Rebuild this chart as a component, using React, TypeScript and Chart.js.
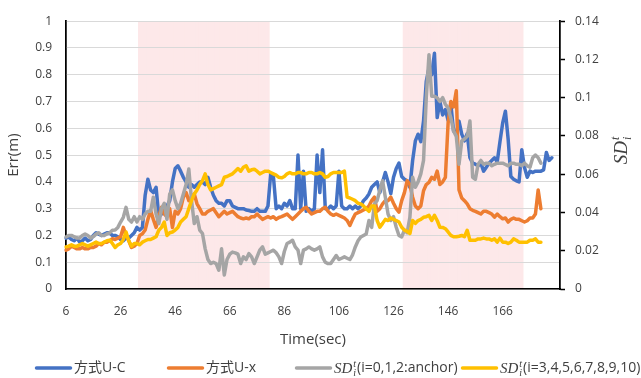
import React, { useEffect, useRef } from 'react';
import { Chart, registerables } from 'chart.js';

Chart.register(...registerables);

// ---------------- data ----------------
const TIMES: (number | string)[] = [
  6, 7, 8, 9, 10, 11, 12, 13, 14, 15, 16, 17, 18, 19, 20, 21, 22, 23, 24, 25,
  26, 27, 28, 29, 30, 31, 32, 33, 34, 35, 36, 37, 38, 39, 40, 41, 42, 43, 44, 45,
  46, 47, 48, 49, 50, 51, 52, 53, 54, 55, 56, 57, 58, 59, 60, 61, 62, 63, 64, 65,
  66, 67, 68, 69, 70, 71, 72, 73, 74, 75, 76, 77, 78, 79, 80, 81, 82, 83, 84, 85,
  86, 87, 88, 89, 90, 91, 92, 93, 94, 95, 96, 97, 98, 99, 100, 101, 102, 103, 104, 105,
  106, 107, 108, 109, 110, 111, 112, 113, 114, 115, 116, 117, 118, 119, 120, 121, 122, 123, 124, 125,
  126, 127, 128, 129, 130, 131, 132, 133, 134, 135, 136, 137, 138, 139, 140, 141, 142, 143, 144, 145,
  146, 147, 148, 149, 150, 151, 152, 153, 154, 155, 156, 157, 158, 159, 160, 161, 162, 163, 164, 165,
  166, 167, 168, 169, 170, 171, 172, 173, 174, 175, 176, 177, 178, 179, 180, 181, 182, 183, 184, 185,
  '', '',
];

const LABEL_START = 6;
const LABEL_STEP = 20;

// Err(m) of method U-C
const ERR_UC = [
  0.19, 0.194, 0.185, 0.18, 0.19, 0.175, 0.18, 0.19, 0.18, 0.185,
  0.2, 0.21, 0.205, 0.2, 0.205, 0.21, 0.21, 0.2, 0.2, 0.195,
  0.185, 0.18, 0.19, 0.19, 0.2, 0.21, 0.23, 0.22, 0.23, 0.35,
  0.41, 0.37, 0.36, 0.38, 0.27, 0.28, 0.29, 0.31, 0.33, 0.4,
  0.45, 0.46, 0.44, 0.417, 0.4, 0.38, 0.39, 0.38, 0.39, 0.4,
  0.4, 0.39, 0.417, 0.38, 0.35, 0.33, 0.32, 0.32, 0.31, 0.33,
  0.33, 0.31, 0.305, 0.3, 0.3, 0.3, 0.295, 0.293, 0.29, 0.29,
  0.3, 0.29, 0.29, 0.29, 0.31, 0.43, 0.42, 0.3, 0.31, 0.3,
  0.32, 0.31, 0.33, 0.3, 0.3, 0.5, 0.3, 0.44, 0.29, 0.3,
  0.29, 0.3, 0.5, 0.36, 0.52, 0.3, 0.3, 0.31, 0.3, 0.31,
  0.44, 0.31, 0.3, 0.3, 0.31, 0.3, 0.31, 0.3, 0.31, 0.33,
  0.34, 0.355, 0.38, 0.39, 0.4, 0.36, 0.4, 0.435, 0.4, 0.356,
  0.417, 0.45, 0.47, 0.42, 0.41, 0.404, 0.38, 0.48, 0.553, 0.578,
  0.55, 0.627, 0.775, 0.825, 0.8, 0.88, 0.64, 0.7, 0.65, 0.67,
  0.63, 0.69, 0.59, 0.58, 0.627, 0.578, 0.553, 0.58, 0.49, 0.47,
  0.466, 0.46, 0.47, 0.44, 0.455, 0.47, 0.48, 0.49, 0.475, 0.55,
  0.62, 0.664, 0.56, 0.42, 0.41, 0.404, 0.4, 0.52, 0.454, 0.417,
  0.44, 0.435, 0.44, 0.44, 0.44, 0.445, 0.51, 0.48, 0.49,
];

// Err(m) of method U-x
const ERR_UX = [
  0.145, 0.15, 0.16, 0.155, 0.15, 0.15, 0.155, 0.15, 0.15, 0.155,
  0.155, 0.16, 0.17, 0.165, 0.175, 0.175, 0.18, 0.188, 0.185, 0.19,
  0.195, 0.23, 0.2, 0.18, 0.155, 0.16, 0.17, 0.2, 0.206, 0.22,
  0.26, 0.293, 0.26, 0.23, 0.27, 0.305, 0.28, 0.27, 0.3, 0.23,
  0.29, 0.28, 0.3, 0.343, 0.36, 0.33, 0.345, 0.355, 0.318, 0.3,
  0.28, 0.28, 0.29, 0.295, 0.3, 0.285, 0.27, 0.28, 0.29, 0.28,
  0.285, 0.29, 0.28, 0.27, 0.265, 0.262, 0.265, 0.262, 0.27, 0.27,
  0.28, 0.27, 0.26, 0.265, 0.27, 0.265, 0.27, 0.26, 0.267, 0.27,
  0.275, 0.28, 0.27, 0.26, 0.27, 0.28, 0.29, 0.3, 0.305, 0.29,
  0.28, 0.285, 0.29, 0.29, 0.3, 0.305, 0.29, 0.28, 0.275, 0.28,
  0.275, 0.27, 0.265, 0.256, 0.237, 0.26, 0.28, 0.285, 0.29, 0.295,
  0.3, 0.31, 0.33, 0.343, 0.29, 0.3, 0.318, 0.33, 0.33, 0.343,
  0.32, 0.3, 0.287, 0.33, 0.36, 0.404, 0.39, 0.343, 0.31, 0.3,
  0.31, 0.367, 0.39, 0.398, 0.417, 0.41, 0.44, 0.39, 0.4, 0.417,
  0.62, 0.7, 0.68, 0.74, 0.37, 0.34, 0.33, 0.318, 0.3, 0.294,
  0.29, 0.285, 0.28, 0.29, 0.29, 0.285, 0.28, 0.268, 0.28, 0.27,
  0.262, 0.265, 0.25, 0.26, 0.265, 0.26, 0.26, 0.255, 0.25, 0.255,
  0.265, 0.265, 0.28, 0.37, 0.3,
];

// SD (i=0,1,2: anchor)
const SD_ANCHOR = [
  0.0272, 0.028, 0.028, 0.0273, 0.0266, 0.0266, 0.028, 0.0288, 0.028, 0.0266,
  0.0274, 0.0287, 0.0294, 0.028, 0.028, 0.0288, 0.0294, 0.0307, 0.0308, 0.0322,
  0.035, 0.0375, 0.0427, 0.0364, 0.035, 0.0378, 0.035, 0.0378, 0.0364, 0.0392,
  0.0406, 0.0406, 0.048, 0.0392, 0.0342, 0.042, 0.0448, 0.0364, 0.0497, 0.0518,
  0.0462, 0.042, 0.0448, 0.0497, 0.0546, 0.0627, 0.0462, 0.0342, 0.0378, 0.0308,
  0.029, 0.021, 0.0154, 0.0133, 0.014, 0.0133, 0.0098, 0.021, 0.0073, 0.0154,
  0.0182, 0.0193, 0.0189, 0.0182, 0.0133, 0.0168, 0.0154, 0.0185, 0.0168, 0.0133,
  0.0168, 0.0203, 0.022, 0.0182, 0.0189, 0.0196, 0.0203, 0.0189, 0.0168, 0.0133,
  0.0196, 0.0238, 0.0245, 0.0255, 0.022, 0.0203, 0.0133, 0.0203, 0.021, 0.022,
  0.021, 0.0203, 0.021, 0.022, 0.0168, 0.014, 0.0133, 0.0133, 0.0154, 0.0175,
  0.0154, 0.0161, 0.0168, 0.0161, 0.0154, 0.0179, 0.022, 0.0252, 0.0272, 0.028,
  0.0288, 0.0358, 0.0322, 0.0445, 0.0462, 0.0518, 0.0566, 0.048, 0.0392, 0.0358,
  0.0378, 0.0323, 0.028, 0.0272, 0.0308, 0.0294, 0.0375, 0.0584, 0.0532, 0.056,
  0.0602, 0.0672, 0.1, 0.1225, 0.1008, 0.1008, 0.1, 0.098, 0.1, 0.0966,
  0.0946, 0.0896, 0.0826, 0.0798, 0.0652, 0.0774, 0.0784, 0.0798, 0.0878, 0.0584,
  0.0574, 0.0652, 0.0672, 0.0652, 0.0658, 0.0658, 0.0644, 0.0652, 0.0658, 0.0658,
  0.0658, 0.0651, 0.0644, 0.0658, 0.0658, 0.0652, 0.0652, 0.0644, 0.0658, 0.0644,
  0.0637, 0.0686, 0.07, 0.0686, 0.0658,
];

// SD (i=3..10)
const SD_OTHERS = [
  0.022, 0.0224, 0.0231, 0.0224, 0.0224, 0.0231, 0.0238, 0.0231, 0.0224, 0.0231,
  0.0238, 0.0245, 0.0238, 0.0238, 0.0245, 0.0252, 0.0255, 0.0238, 0.0217, 0.0231,
  0.0238, 0.0259, 0.0298, 0.0252, 0.0224, 0.0238, 0.0238, 0.0231, 0.0245, 0.0252,
  0.0259, 0.0259, 0.0266, 0.0273, 0.0307, 0.0322, 0.035, 0.028, 0.0294, 0.0298,
  0.0308, 0.0322, 0.035, 0.0364, 0.0378, 0.042, 0.0462, 0.0497, 0.0518, 0.0546,
  0.0566, 0.0602, 0.0546, 0.0518, 0.0525, 0.0532, 0.0539, 0.0546, 0.0584, 0.0588,
  0.0595, 0.0602, 0.0616, 0.063, 0.0616, 0.0636, 0.0644, 0.0616, 0.0623, 0.0626,
  0.0616, 0.0602, 0.0609, 0.0616, 0.0616, 0.0609, 0.0602, 0.0595, 0.0584, 0.0581,
  0.0588, 0.0602, 0.0609, 0.0602, 0.0602, 0.0609, 0.0609, 0.0602, 0.0602, 0.0609,
  0.0609, 0.0602, 0.0602, 0.0609, 0.0602, 0.0584, 0.0588, 0.0602, 0.0609, 0.0609,
  0.0609, 0.0609, 0.0616, 0.048, 0.0476, 0.0469, 0.0462, 0.0448, 0.0445, 0.0434,
  0.042, 0.0406, 0.0434, 0.0434, 0.0358, 0.0323, 0.0343, 0.0364, 0.0358, 0.0371,
  0.0364, 0.0358, 0.035, 0.0323, 0.0308, 0.0301, 0.029, 0.0358, 0.0343, 0.0358,
  0.0364, 0.0375, 0.0378, 0.0385, 0.0358, 0.0385, 0.0358, 0.0323, 0.0322, 0.0315,
  0.0298, 0.028, 0.0273, 0.0273, 0.0276, 0.028, 0.0273, 0.0307, 0.0255, 0.0255,
  0.0255, 0.0262, 0.0262, 0.0266, 0.0262, 0.0262, 0.0255, 0.0262, 0.0245, 0.0266,
  0.0245, 0.0245, 0.0238, 0.0245, 0.0262, 0.0255, 0.0245, 0.0245, 0.0245, 0.0245,
  0.0255, 0.0255, 0.0262, 0.0245, 0.0245,
];

// shaded time intervals (sec)
const BAND_RANGES: [number, number][] = [
  [33, 80],
  [130, 173],
];

const SERIES_NAMES = ['方式U-C', '方式U-x', '(i=0,1,2:anchor)', '(i=3,4,5,6,7,8,9,10)'];
const X_TITLE = 'Time(sec)';
const Y_TITLE = 'Err(m)';

// ---------------- styles ----------------
const COLORS = ['#4472C4', '#ED7D31', '#A5A5A5', '#FFC000'];
const BAND_COLOR = 'rgb(253, 232, 233)';
const TEXT_COLOR = '#404040';
const GRID_COLOR = '#D9D9D9';
const SANS = '"Open Sans", "Noto Sans CJK JP", sans-serif';
const SERIF = '"Liberation Serif", "DejaVu Serif", serif';

function drawSD(ctx: CanvasRenderingContext2D, x: number, y: number, size: number, doDraw = true): number {
  ctx.textAlign = 'left';
  ctx.textBaseline = 'alphabetic';
  const base = y + size * 0.34;
  ctx.font = `italic ${size}px ${SERIF}`;
  const wSD = ctx.measureText('SD').width;
  if (doDraw) ctx.fillText('SD', x, base);
  const small = Math.round(size * 0.64);
  ctx.font = `italic ${small}px ${SERIF}`;
  const wS = Math.max(ctx.measureText('t').width, ctx.measureText('i').width);
  if (doDraw) {
    ctx.fillText('t', x + wSD + 1, base - size * 0.42);
    ctx.fillText('i', x + wSD + 1, base + size * 0.2);
  }
  return wSD + 1 + wS + 1;
}

const overlayPlugin = {
  id: 'overlay',
  // gridlines and axis lines stay visible above the shaded bands
  afterDatasetDraw(chart: any, args: any) {
    if (args.meta.type !== 'bar') return;
    const s = chart.scales;
    s.y.drawGrid(chart.chartArea);
    s.x.drawBorder();
    s.y.drawBorder();
    s.y2.drawBorder();
  },
  afterDraw(chart: any) {
    const ctx: CanvasRenderingContext2D = chart.ctx;
    const area = chart.chartArea;
    ctx.save();
    ctx.fillStyle = TEXT_COLOR;

    // left axis title
    ctx.save();
    ctx.translate(14, (area.top + area.bottom) / 2);
    ctx.rotate(-Math.PI / 2);
    ctx.font = `15px ${SANS}`;
    ctx.textAlign = 'center';
    ctx.textBaseline = 'middle';
    ctx.fillText(Y_TITLE, 0, 0);
    ctx.restore();

    // x axis title
    ctx.font = `15px ${SANS}`;
    ctx.textAlign = 'center';
    ctx.textBaseline = 'middle';
    ctx.fillText(X_TITLE, (area.left + area.right) / 2, 340);

    // right axis title
    ctx.save();
    ctx.translate(621, 150);
    ctx.rotate(-Math.PI / 2);
    const w = drawSD(ctx, 0, 0, 19, false);
    drawSD(ctx, -w / 2, 0, 19);
    ctx.restore();

    // legend
    const lineStarts = [35, 167, 295, 461];
    const lineLen = 37;
    const ly = 368;
    SERIES_NAMES.forEach((name, i) => {
      const x0 = lineStarts[i];
      ctx.strokeStyle = COLORS[i];
      ctx.lineWidth = 3.5;
      ctx.lineCap = 'round';
      ctx.beginPath();
      ctx.moveTo(x0 + 1.5, ly);
      ctx.lineTo(x0 + lineLen - 1.5, ly);
      ctx.stroke();
      let tx = x0 + lineLen + 2;
      ctx.fillStyle = TEXT_COLOR;
      if (i >= 2) {
        tx += drawSD(ctx, tx, ly, 15);
      }
      ctx.font = `14px ${SANS}`;
      ctx.textAlign = 'left';
      ctx.textBaseline = 'middle';
      ctx.fillText(name, tx, ly);
    });
    ctx.restore();
  },
};

const fmt = (v: number) => String(Math.round(v * 10000) / 10000);

export default function App() {
  const ref = useRef<HTMLCanvasElement>(null);

  useEffect(() => {
    document.body.style.margin = '0';
    const canvas = ref.current;
    if (!canvas) return;

    const bandData = TIMES.map((t) =>
      typeof t === 'number' && BAND_RANGES.some(([a, b]) => t >= a && t <= b) ? 1 : null
    );

    const lineDs = (label: string, data: number[], color: string, axis: string, order: number) => ({
      type: 'line' as const,
      label,
      data,
      yAxisID: axis,
      borderColor: color,
      backgroundColor: color,
      borderWidth: 3.5,
      pointRadius: 0,
      tension: 0,
      borderJoinStyle: 'round' as const,
      borderCapStyle: 'round' as const,
      fill: false,
      order,
    });

    const chart = new Chart(canvas, {
      type: 'line',
      data: {
        labels: TIMES.map((t) => String(t)),
        datasets: [
          lineDs(SERIES_NAMES[0], ERR_UC, COLORS[0], 'y', 4),
          lineDs(SERIES_NAMES[1], ERR_UX, COLORS[1], 'y', 3),
          lineDs('SD ' + SERIES_NAMES[2], SD_ANCHOR, COLORS[2], 'y2', 2),
          lineDs('SD ' + SERIES_NAMES[3], SD_OTHERS, COLORS[3], 'y2', 1),
          {
            type: 'bar' as const,
            label: 'band',
            data: bandData as any,
            yAxisID: 'yBand',
            backgroundColor: BAND_COLOR,
            borderWidth: 0,
            barPercentage: 1,
            categoryPercentage: 1,
            order: 10,
          } as any,
        ],
      },
      options: {
        responsive: false,
        animation: false,
        devicePixelRatio: 1,
        layout: { padding: { top: 19, left: 0, right: 0, bottom: 0 } },
        plugins: {
          legend: { display: false },
          tooltip: { enabled: false },
        },
        scales: {
          x: {
            type: 'category',
            offset: false,
            grid: { display: false, drawTicks: false, offset: false },
            border: { display: true, color: '#000', width: 1.5 },
            ticks: {
              autoSkip: false,
              maxRotation: 0,
              minRotation: 0,
              padding: 15,
              color: TEXT_COLOR,
              font: { family: SANS, size: 12 },
              callback: (_v: any, i: number) => {
                const t = TIMES[i];
                return typeof t === 'number' && (t - LABEL_START) % LABEL_STEP === 0 ? String(t) : '';
              },
            },
            afterFit: (s: any) => {
              s.height = 89;
            },
          },
          y: {
            position: 'left',
            min: 0,
            max: 1,
            ticks: {
              stepSize: 0.1,
              padding: 14,
              color: TEXT_COLOR,
              font: { family: SANS, size: 12 },
              callback: (v: any) => fmt(Number(v)),
            },
            grid: { color: GRID_COLOR, lineWidth: 1, drawTicks: false },
            border: { display: true, color: '#000', width: 1.5 },
            afterFit: (s: any) => {
              s.width = 66;
            },
          },
          y2: {
            position: 'right',
            min: 0,
            max: 0.14,
            ticks: {
              stepSize: 0.02,
              padding: 10,
              color: TEXT_COLOR,
              font: { family: SANS, size: 12 },
              callback: (v: any) => fmt(Number(v)),
            },
            grid: {
              drawOnChartArea: false,
              drawTicks: true,
              tickLength: 5,
              tickColor: '#000',
              tickWidth: 1.5,
            },
            border: { display: true, color: '#000', width: 1.5 },
            afterFit: (s: any) => {
              s.width = 81;
            },
          },
          yBand: {
            display: false,
            min: 0,
            max: 1,
          },
        },
      } as any,
      plugins: [overlayPlugin],
    });

    return () => chart.destroy();
  }, []);

  return (
    <div style={{ width: 641, height: 378, background: '#fff' }}>
      <canvas ref={ref} width={641} height={378} style={{ display: 'block' }} />
    </div>
  );
}
